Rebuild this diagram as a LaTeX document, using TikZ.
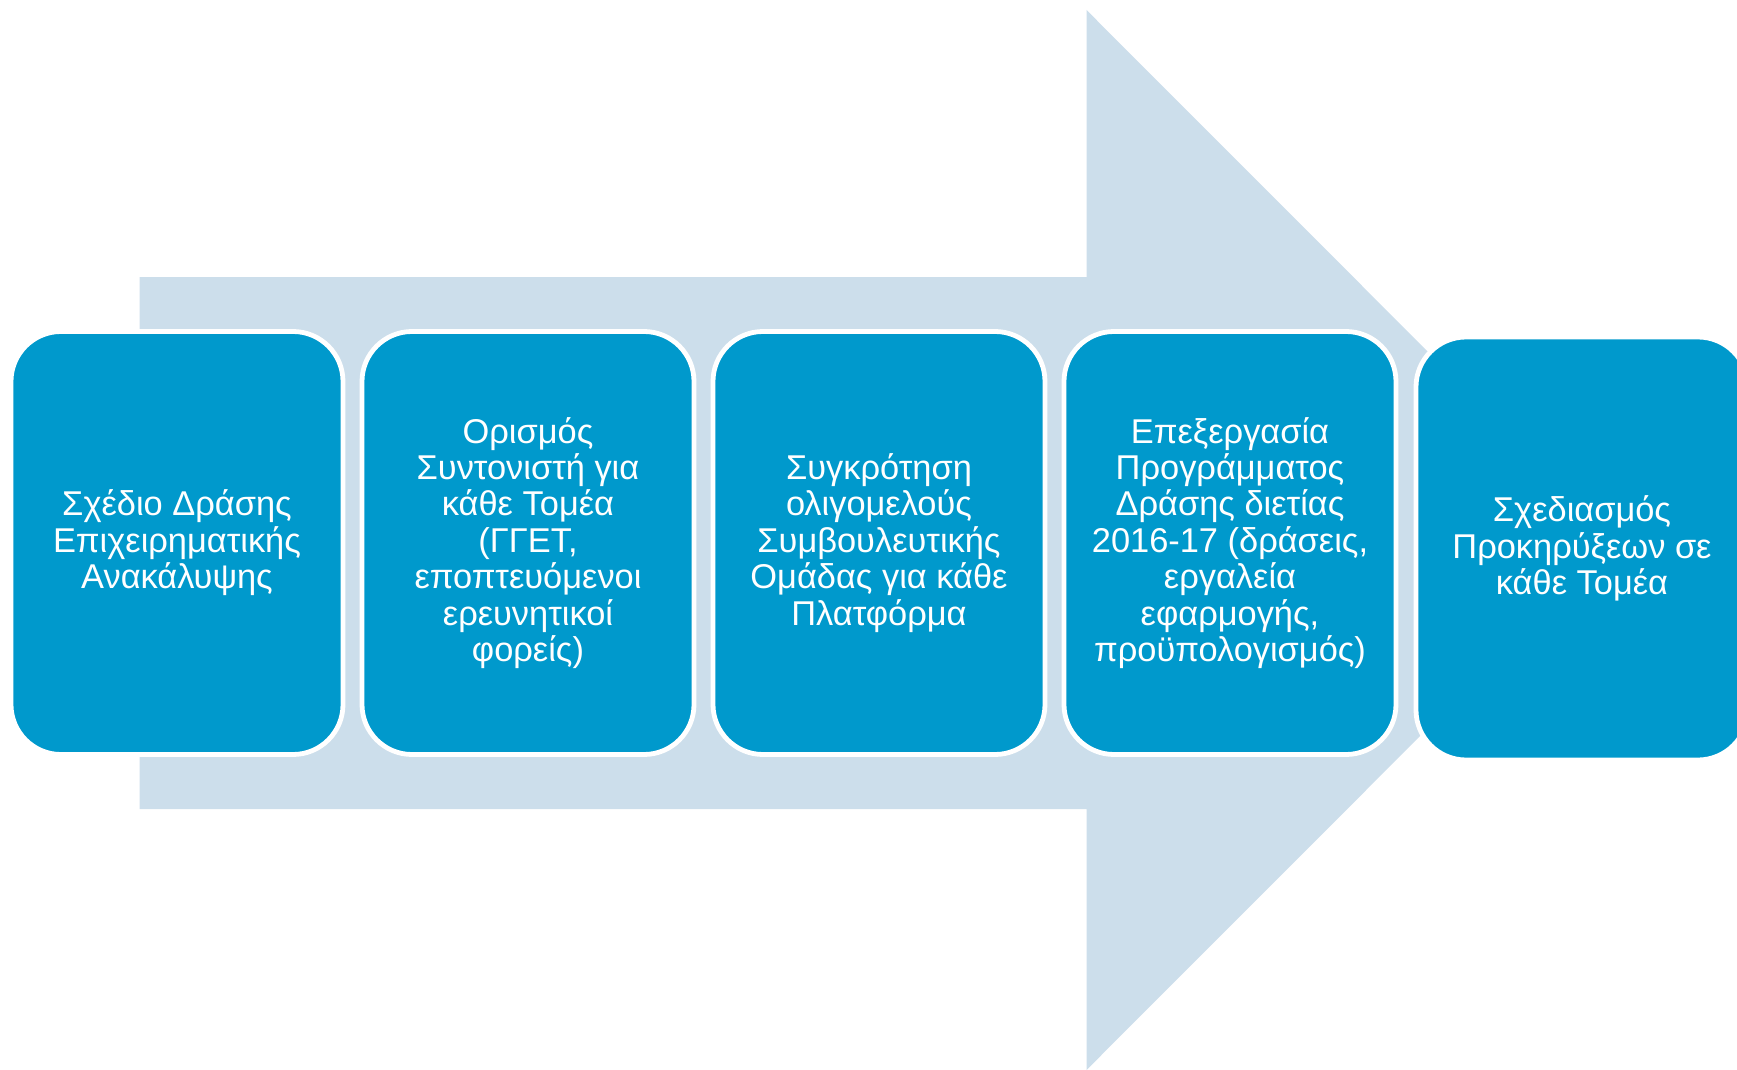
\documentclass[tikz,border=0pt]{standalone}
\usepackage{fontspec}
\setmainfont{Liberation Sans}
\definecolor{boxblue}{RGB}{0,153,204}
\definecolor{arrowblue}{RGB}{204,222,235}
\tikzset{
  stepbox/.style={draw=white, line width=2.4pt, fill=boxblue, rounded corners=25pt,
    minimum width=166pt, minimum height=211.5pt, text=white, align=center,
    font=\fontsize{17.2}{18.2}\selectfont, inner sep=0pt},
}
\begin{document}
\begin{tikzpicture}[x=0.5pt,y=-0.5pt]
\useasboundingbox (0,0) rectangle (1737,1070);
\clip (0,0) rectangle (1737,1070);
\fill[arrowblue] (139.6,277) -- (1086.5,277) -- (1086.5,10) -- (1616,540) -- (1086.5,1070) -- (1086.5,809) -- (139.6,809) -- cycle;
\node[stepbox] (b1) at (177,543) {Σχέδιο Δράσης\\Επιχειρηματικής\\Ανακάλυψης};
\node[stepbox] (b2) at (528,543) {Ορισμός\\Συντονιστή για\\κάθε Τομέα\\(ΓΓΕΤ,\\εποπτευόμενοι\\ερευνητικοί\\φορείς)};
\node[stepbox] (b3) at (879,543) {Συγκρότηση\\ολιγομελούς\\Συμβουλευτικής\\Ομάδας για κάθε\\Πλατφόρμα};
\node[stepbox] (b4) at (1230,543) {Επεξεργασία\\Προγράμματος\\Δράσης διετίας\\2016-17 (δράσεις,\\εργαλεία\\εφαρμογής,\\προϋπολογισμός)};
\node[stepbox] (b5) at (1582,548.5) {Σχεδιασμός\\Προκηρύξεων σε\\κάθε Τομέα};
\end{tikzpicture}
\end{document}
